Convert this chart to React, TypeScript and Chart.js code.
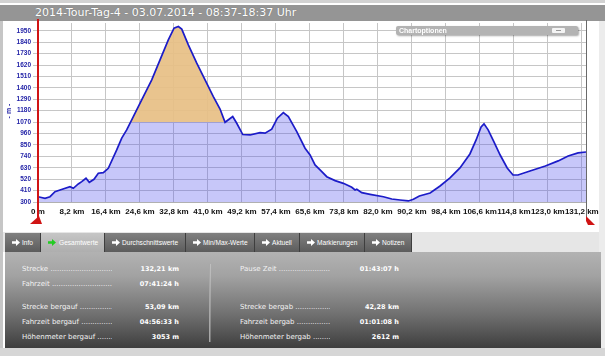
import React, { useEffect, useRef } from "react";
import { Chart, registerables } from "chart.js";

Chart.register(...registerables);

// ---- data ----
const distanceKm = [
  0, 1.69, 2.9, 4.1, 5.31, 7.72, 8.52, 9.72, 10.55, 11.58, 12.38, 13.51, 14.55, 15.76, 16.96,
  18.99, 20.2, 21.4, 23.0, 25.41, 27.44, 29.44, 31.44, 32.82, 33.86, 34.68, 36.27, 38.3, 40.3,
  42.3, 43.92, 45.13, 46.98, 47.95, 49.4, 51.16, 53.57, 54.78, 56.39, 57.75, 59.19, 60.4, 62.43,
  64.43, 65.64, 66.84, 68.05, 69.67, 71.67, 73.67, 75.7, 76.5, 76.91, 78.11, 80.12, 83.33, 85.35,
  87.36, 89.36, 90.57, 92.01, 94.6, 97.0, 99.4, 101.8, 104.2, 105.7, 106.9, 107.6, 108.6, 110.0,
  111.5, 113.2, 114.6, 115.8, 118.7, 122.4, 125.5, 127.9, 130.3, 132.21,
];
const elevationM = [
  351, 336, 351, 399, 416, 448, 432, 474, 496, 529, 490, 519, 577, 583, 625,
  802, 915, 995, 1123, 1316, 1477, 1670, 1863, 1976, 1991, 1966, 1815, 1638, 1477,
  1316, 1196, 1068, 1123, 1059, 950, 946, 969, 963, 1001, 1108, 1162, 1123, 978,
  818, 753, 657, 609, 544, 506, 480, 442, 416, 423, 390, 374, 351, 329,
  319, 310, 326, 358, 387, 454, 532, 628, 763, 898, 1024, 1053, 995, 879,
  753, 628, 560, 560, 599, 647, 696, 744, 773, 782,
];
const xTickValues = [0, 8.2, 16.4, 24.6, 32.8, 41.0, 49.2, 57.4, 65.6, 73.8, 82.0, 90.2, 98.4, 106.6, 114.8, 123.0, 131.2];
const xTickLabels = ["0 m", "8,2 km", "16,4 km", "24,6 km", "32,8 km", "41,0 km", "49,2 km", "57,4 km", "65,6 km", "73,8 km", "82,0 km", "90,2 km", "98,4 km", "106,6 km", "114,8 km", "123,0 km", "131,2 km"];
const yTickValues = [300, 410, 520, 630, 740, 850, 960, 1070, 1180, 1290, 1400, 1510, 1620, 1730, 1840, 1950];
const xMaxKm = 132.21;
const yMinM = 300;
const yMaxM = 2025;
const climbStartKm = 21.0;
const climbEndKm = 45.13;
const climbBaseM = 1070;

const titleText = "2014-Tour-Tag-4 - 03.07.2014 - 08:37-18:37 Uhr";
const tabNames = ["Info", "Gesamtwerte", "Durchschnittswerte", "Min/Max-Werte", "Aktuell", "Markierungen", "Notizen"];
const tabEdges = [5, 41, 105, 186, 255, 300, 365, 412];
const activeTab = 1;
const leftLabels = ["Strecke", "Fahrzeit", "Strecke bergauf", "Fahrzeit bergauf", "Höhenmeter bergauf"];
const leftValues = ["132,21 km", "07:41:24 h", "53,09 km", "04:56:33 h", "3053 m"];
const rightLabels = ["Pause Zeit", "", "Strecke bergab", "Fahrzeit bergab", "Höhenmeter bergab"];
const rightValues = ["01:43:07 h", "", "42,28 km", "01:01:08 h", "2612 m"];
const rowY = [269, 284, 307, 322, 337];

const markerPlugin = {
  id: "markers",
  afterDatasetDraw(chart: any, args: any) {
    if (args.index !== 1) return;
    const { ctx, chartArea } = chart;
    const x = chart.scales.x;
    const y = chart.scales.y;
    const xs = x.getPixelForValue(climbStartKm);
    const xe = x.getPixelForValue(climbEndKm);
    const yb = y.getPixelForValue(climbBaseM);
    ctx.save();
    ctx.beginPath();
    ctx.rect(xs, chartArea.top, xe - xs, yb - chartArea.top);
    ctx.clip();
    ctx.beginPath();
    distanceKm.forEach((d, i) => {
      const px = x.getPixelForValue(d);
      const py = y.getPixelForValue(elevationM[i]);
      if (i === 0) ctx.moveTo(px, py);
      else ctx.lineTo(px, py);
    });
    ctx.lineTo(x.getPixelForValue(xMaxKm), yb);
    ctx.lineTo(x.getPixelForValue(0), yb);
    ctx.closePath();
    ctx.fillStyle = "rgba(238,196,128,0.88)";
    ctx.fill();
    ctx.restore();
  },
  afterDraw(chart: any) {
    const { ctx, chartArea } = chart;
    const x = chart.scales.x;
    const x0 = Math.round(x.getPixelForValue(0));
    const x1 = Math.round(x.getPixelForValue(xMaxKm));
    ctx.save();
    // end marker line
    ctx.strokeStyle = "#6a6a6a";
    ctx.lineWidth = 1;
    ctx.beginPath();
    ctx.moveTo(x1 + 0.5, 20);
    ctx.lineTo(x1 + 0.5, chartArea.bottom + 15);
    ctx.stroke();
    // start marker line
    ctx.strokeStyle = "#d01414";
    ctx.lineWidth = 2;
    ctx.beginPath();
    ctx.moveTo(x0, 19);
    ctx.lineTo(x0, chartArea.bottom + 16);
    ctx.stroke();
    ctx.fillStyle = "#d01414";
    ctx.beginPath();
    ctx.moveTo(x0 + 1, chartArea.bottom + 14);
    ctx.lineTo(x0 + 4, chartArea.bottom + 22);
    ctx.lineTo(x0 - 8, chartArea.bottom + 22);
    ctx.closePath();
    ctx.fill();
    ctx.beginPath();
    ctx.moveTo(x1, chartArea.bottom + 14);
    ctx.lineTo(x1 + 9, chartArea.bottom + 23);
    ctx.lineTo(x1 + 2, chartArea.bottom + 23);
    ctx.lineTo(x1, chartArea.bottom + 19);
    ctx.closePath();
    ctx.fill();
    // axis title
    ctx.translate(9, 111);
    ctx.rotate(-Math.PI / 2);
    ctx.fillStyle = "#2828a8";
    ctx.font = 'bold 7px "Liberation Sans"';
    ctx.textAlign = "center";
    ctx.textBaseline = "middle";
    ctx.fillText("- m -", 0, 0);
    ctx.restore();
  },
};

function ElevationChart() {
  const ref = useRef<HTMLCanvasElement | null>(null);
  useEffect(() => {
    if (!ref.current) return;
    const points = distanceKm.map((d, i) => ({ x: d, y: elevationM[i] }));
    const chart = new Chart(ref.current, {
      type: "line",
      data: {
        datasets: [
          {
            data: points,
            borderColor: "#1c1cc8",
            borderWidth: 1.7,
            pointRadius: 0,
            fill: false,
            tension: 0,
            order: 0,
          },
          {
            data: points,
            borderWidth: 0,
            borderColor: "rgba(0,0,0,0)",
            backgroundColor: "rgba(80,80,235,0.32)",
            pointRadius: 0,
            fill: "start",
            tension: 0,
            order: 1,
          },
        ],
      },
      options: {
        animation: false,
        responsive: false,
        maintainAspectRatio: false,
        layout: { padding: { top: 23, right: 19, left: 0, bottom: 0 } },
        plugins: { legend: { display: false }, tooltip: { enabled: false } },
        scales: {
          x: {
            type: "linear",
            min: 0,
            max: xMaxKm,
            afterBuildTicks: (s: any) => {
              s.ticks = xTickValues.map((v) => ({ value: v }));
            },
            afterFit: (s: any) => {
              s.height = 30;
            },
            ticks: {
              callback: (_v: any, i: number) => xTickLabels[i],
              font: { family: '"Liberation Sans"', size: 8, weight: "bold" },
              color: "#111111",
              padding: 5,
              maxRotation: 0,
              autoSkip: false,
            },
            grid: { color: "#c6c6c6", drawTicks: false },
            border: { display: true, color: "#b0b0b0" },
          },
          y: {
            type: "linear",
            min: yMinM,
            max: yMaxM,
            afterBuildTicks: (s: any) => {
              s.ticks = yTickValues.map((v) => ({ value: v }));
            },
            afterFit: (s: any) => {
              s.width = 38;
            },
            ticks: {
              callback: (v: any) => String(v),
              font: { family: '"Liberation Sans"', size: 6.5, weight: "bold" },
              color: "#2424a8",
              padding: 2,
            },
            grid: { color: "#c6c6c6", tickLength: 5 },
            border: { display: false },
          },
        },
      } as any,
      plugins: [markerPlugin as any],
    });
    return () => chart.destroy();
  }, []);
  return <canvas ref={ref} width={605} height={232} style={{ position: "absolute", left: 0, top: 0 }} />;
}

function Arrow({ color }: { color: string }) {
  return (
    <svg width="8" height="7" viewBox="0 0 8 7" style={{ position: "absolute", left: 7, top: 6 }}>
      <polygon points="0,2.2 4,2.2 4,0 8,3.5 4,7 4,4.8 0,4.8" fill={color} />
    </svg>
  );
}

export default function App() {
  return (
    <div
      style={{
        position: "absolute",
        left: 0,
        top: 0,
        width: 605,
        height: 356,
        background: "#ffffff",
        overflow: "hidden",
        fontFamily: '"DejaVu Sans"',
      }}
    >
      <div style={{ position: "absolute", left: 0, top: 0, width: 605, height: 3, background: "#d2d2d2" }} />
      <div
        style={{
          position: "absolute",
          left: 0,
          top: 5,
          width: 605,
          height: 16,
          background: "#959595",
          color: "#ffffff",
          fontSize: 11,
          lineHeight: "16px",
          paddingLeft: 35,
          boxSizing: "border-box",
          whiteSpace: "nowrap",
          textShadow: "0 0 1px rgba(0,0,0,0.3)",
        }}
      >
        {titleText}
      </div>
      <div style={{ position: "absolute", left: 0, top: 21, width: 3, height: 335, background: "#c6c6c6" }} />
      <div style={{ position: "absolute", left: 599, top: 21, width: 6, height: 335, background: "#ececec" }} />
      <ElevationChart />
      {/* Chartoptionen panel */}
      <div
        style={{
          position: "absolute",
          left: 396,
          top: 26,
          width: 182,
          height: 9,
          background: "#b3b3b3",
          borderRadius: 2,
          boxShadow: "1px 1px 2px rgba(0,0,0,0.35)",
          color: "#ffffff",
          fontFamily: '"Liberation Sans"',
          fontWeight: "bold",
          fontSize: 7,
          lineHeight: "9px",
          paddingLeft: 3,
          boxSizing: "border-box",
        }}
      >
        Chartoptionen
        <div
          style={{
            position: "absolute",
            left: 156,
            top: 2,
            width: 13,
            height: 5,
            background: "#f4f4f4",
            borderRadius: 1,
          }}
        >
          <div style={{ position: "absolute", left: 4, top: 2, width: 5, height: 1, background: "#999" }} />
        </div>
      </div>
      {/* tab bar */}
      <div style={{ position: "absolute", left: 3, top: 232, width: 596, height: 20, background: "#e6e6e6" }} />
      {tabNames.map((name, i) => {
        const left = tabEdges[i];
        const w = tabEdges[i + 1] - left;
        const active = i === activeTab;
        return (
          <div
            key={name}
            style={{
              position: "absolute",
              left,
              top: 233,
              width: w,
              height: 19,
              background: active
                ? "linear-gradient(#c6c6c6, #aeaeae)"
                : "linear-gradient(#808080, #5c5c5c)",
              borderRight: "1px solid #3e3e3e",
              boxSizing: "border-box",
              color: "#ffffff",
              fontFamily: '"Liberation Sans"',
              fontSize: 6.6,
              lineHeight: "19px",
              whiteSpace: "nowrap",
            }}
          >
            <Arrow color={active ? "#22cc22" : "#ffffff"} />
            <span style={{ position: "absolute", left: active ? 18 : 17, top: 0 }}>{name}</span>
          </div>
        );
      })}
      {/* stats panel */}
      <div
        style={{
          position: "absolute",
          left: 5,
          top: 252,
          width: 596,
          height: 96,
          background: "linear-gradient(#b2b2b2 0%, #a2a2a2 25%, #707070 65%, #3e3e3e 100%)",
        }}
      />
      <div style={{ position: "absolute", left: 0, top: 348, width: 605, height: 8, background: "#d6d6d6" }} />
      <div style={{ position: "absolute", left: 209, top: 264, width: 1, height: 78, background: "#a8a8a8" }} />
      <div style={{ position: "absolute", left: 210, top: 264, width: 1, height: 78, background: "rgba(255,255,255,0.25)" }} />
      {rowY.map((cy, i) => (
        <React.Fragment key={i}>
          {leftLabels[i] && (
            <div
              style={{
                position: "absolute",
                left: 22,
                top: cy - 5,
                width: 90,
                height: 10,
                overflow: "hidden",
                whiteSpace: "nowrap",
                color: "#f2f2f2",
                fontSize: 7,
                lineHeight: "10px",
              }}
            >
              {leftLabels[i] + " ............................................................"}
            </div>
          )}
          {leftValues[i] && (
            <div
              style={{
                position: "absolute",
                left: 100,
                top: cy - 5,
                width: 79,
                textAlign: "right",
                color: "#ffffff",
                fontWeight: "bold",
                fontSize: 6.5,
                lineHeight: "10px",
                whiteSpace: "nowrap",
              }}
            >
              {leftValues[i]}
            </div>
          )}
          {rightLabels[i] && (
            <div
              style={{
                position: "absolute",
                left: 240,
                top: cy - 5,
                width: 90,
                height: 10,
                overflow: "hidden",
                whiteSpace: "nowrap",
                color: "#f2f2f2",
                fontSize: 7,
                lineHeight: "10px",
              }}
            >
              {rightLabels[i] + " ............................................................"}
            </div>
          )}
          {rightValues[i] && (
            <div
              style={{
                position: "absolute",
                left: 320,
                top: cy - 5,
                width: 79,
                textAlign: "right",
                color: "#ffffff",
                fontWeight: "bold",
                fontSize: 6.5,
                lineHeight: "10px",
                whiteSpace: "nowrap",
              }}
            >
              {rightValues[i]}
            </div>
          )}
        </React.Fragment>
      ))}
    </div>
  );
}
